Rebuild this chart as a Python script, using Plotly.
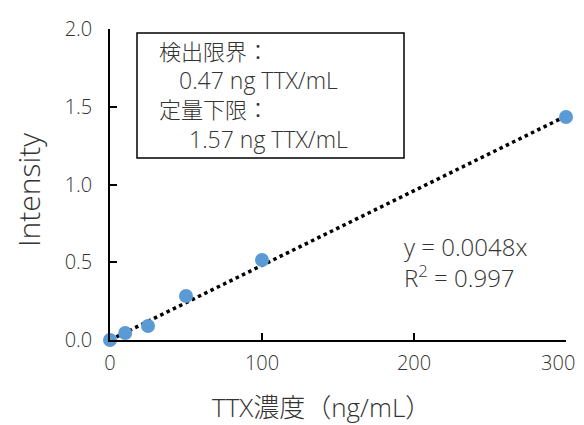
import plotly.graph_objects as go

conc = [0, 10, 25, 50, 100, 300]
intensity = [0.0, 0.045, 0.09, 0.283, 0.514, 1.434]
slope = 0.0048
trend_x = [0, 300]
trend_y = [slope * x for x in trend_x]
x_ticks = [0, 100, 200, 300]
x_tick_text = ["0", "100", "200", "300\u00a0\u00a0\u00a0"]
y_ticks = [0.0, 0.5, 1.0, 1.5, 2.0]
y_tick_text = ["0.0", "0.5", "1.0", "1.5", "2.0"]

FONT = "Open Sans, Noto Sans CJK JP"
TXT = "#333333"
W = 300

# plot area in page pixels (page body has 8px margin)
PL, PR, PT, PB = 110, 566, 29, 340


def px(xp):
    return (xp - PL) / (PR - PL)


def py(yp):
    return (PB - yp) / (PB - PT)


fig = go.Figure()
fig.add_trace(go.Scatter(x=trend_x, y=trend_y, mode="lines",
                         line=dict(color="black", width=3.5, dash="dot"),
                         hoverinfo="skip", cliponaxis=False))
fig.add_trace(go.Scatter(x=conc, y=intensity, mode="markers",
                         marker=dict(color="#5B9BD5", size=14),
                         cliponaxis=False))

fig.update_layout(
    width=584, height=425,
    margin=dict(l=102, r=26, t=21, b=93, autoexpand=False),
    paper_bgcolor="white", plot_bgcolor="white",
    showlegend=False,
    font=dict(family=FONT, color=TXT, size=18, weight=W),
    xaxis=dict(range=[0, 300], tickvals=x_ticks, ticktext=x_tick_text,
               ticks="inside", ticklen=7,
               tickcolor="black", tickwidth=1.5, showline=True, linecolor="black",
               linewidth=1.5, showgrid=False, zeroline=False, automargin=False,
               ticklabelstandoff=4,
               tickfont=dict(size=20, family=FONT, color=TXT, weight=W)),
    yaxis=dict(range=[0, 2.0], tickvals=y_ticks, ticktext=y_tick_text, ticks="inside",
               ticklen=7, tickcolor="black", tickwidth=1.5, showline=True,
               linecolor="black", linewidth=1.5, showgrid=False, zeroline=False,
               automargin=False, ticklabelstandoff=12,
               tickfont=dict(size=20, family=FONT, color=TXT, weight=W)),
)

# axis titles
fig.add_annotation(text="TTX濃度（ng/mL）", xref="paper", yref="paper",
                   x=px(321), y=py(407), xanchor="center", yanchor="middle",
                   showarrow=False, borderpad=0,
                   font=dict(size=26, family=FONT, color=TXT, weight=W))
fig.add_annotation(text="Intensity", xref="paper", yref="paper", textangle=-90,
                   x=px(29), y=py(190), xanchor="center", yanchor="middle",
                   showarrow=False, borderpad=0,
                   font=dict(size=30, family=FONT, color=TXT, weight=W))

fig.add_shape(type="rect", xref="paper", yref="paper",
              x0=px(137), x1=px(404), y0=py(158), y1=py(33),
              line=dict(color="black", width=1.5), fillcolor="white", layer="below")

box_lines = [("検出限界：", 158, 51, 22), ("0.47 ng TTX/mL", 178, 80, 23),
             ("定量下限：", 158, 109, 22), ("1.57 ng TTX/mL", 188, 139, 23)]
for txt, xp, yp, fs in box_lines:
    fig.add_annotation(text=txt, xref="paper", yref="paper",
                       x=px(xp), y=py(yp), borderpad=0,
                       xanchor="left", yanchor="middle", showarrow=False,
                       font=dict(size=fs, family=FONT, color=TXT, weight=W))

fig.add_annotation(text="y = 0.0048x<br>R<sup>2</sup> = 0.997", xref="paper",
                   yref="paper", x=px(402), y=py(262), align="left",
                   xanchor="left", yanchor="middle", showarrow=False,
                   font=dict(size=24, family=FONT, color=TXT, weight=W))

fig.write_html("out.html")
